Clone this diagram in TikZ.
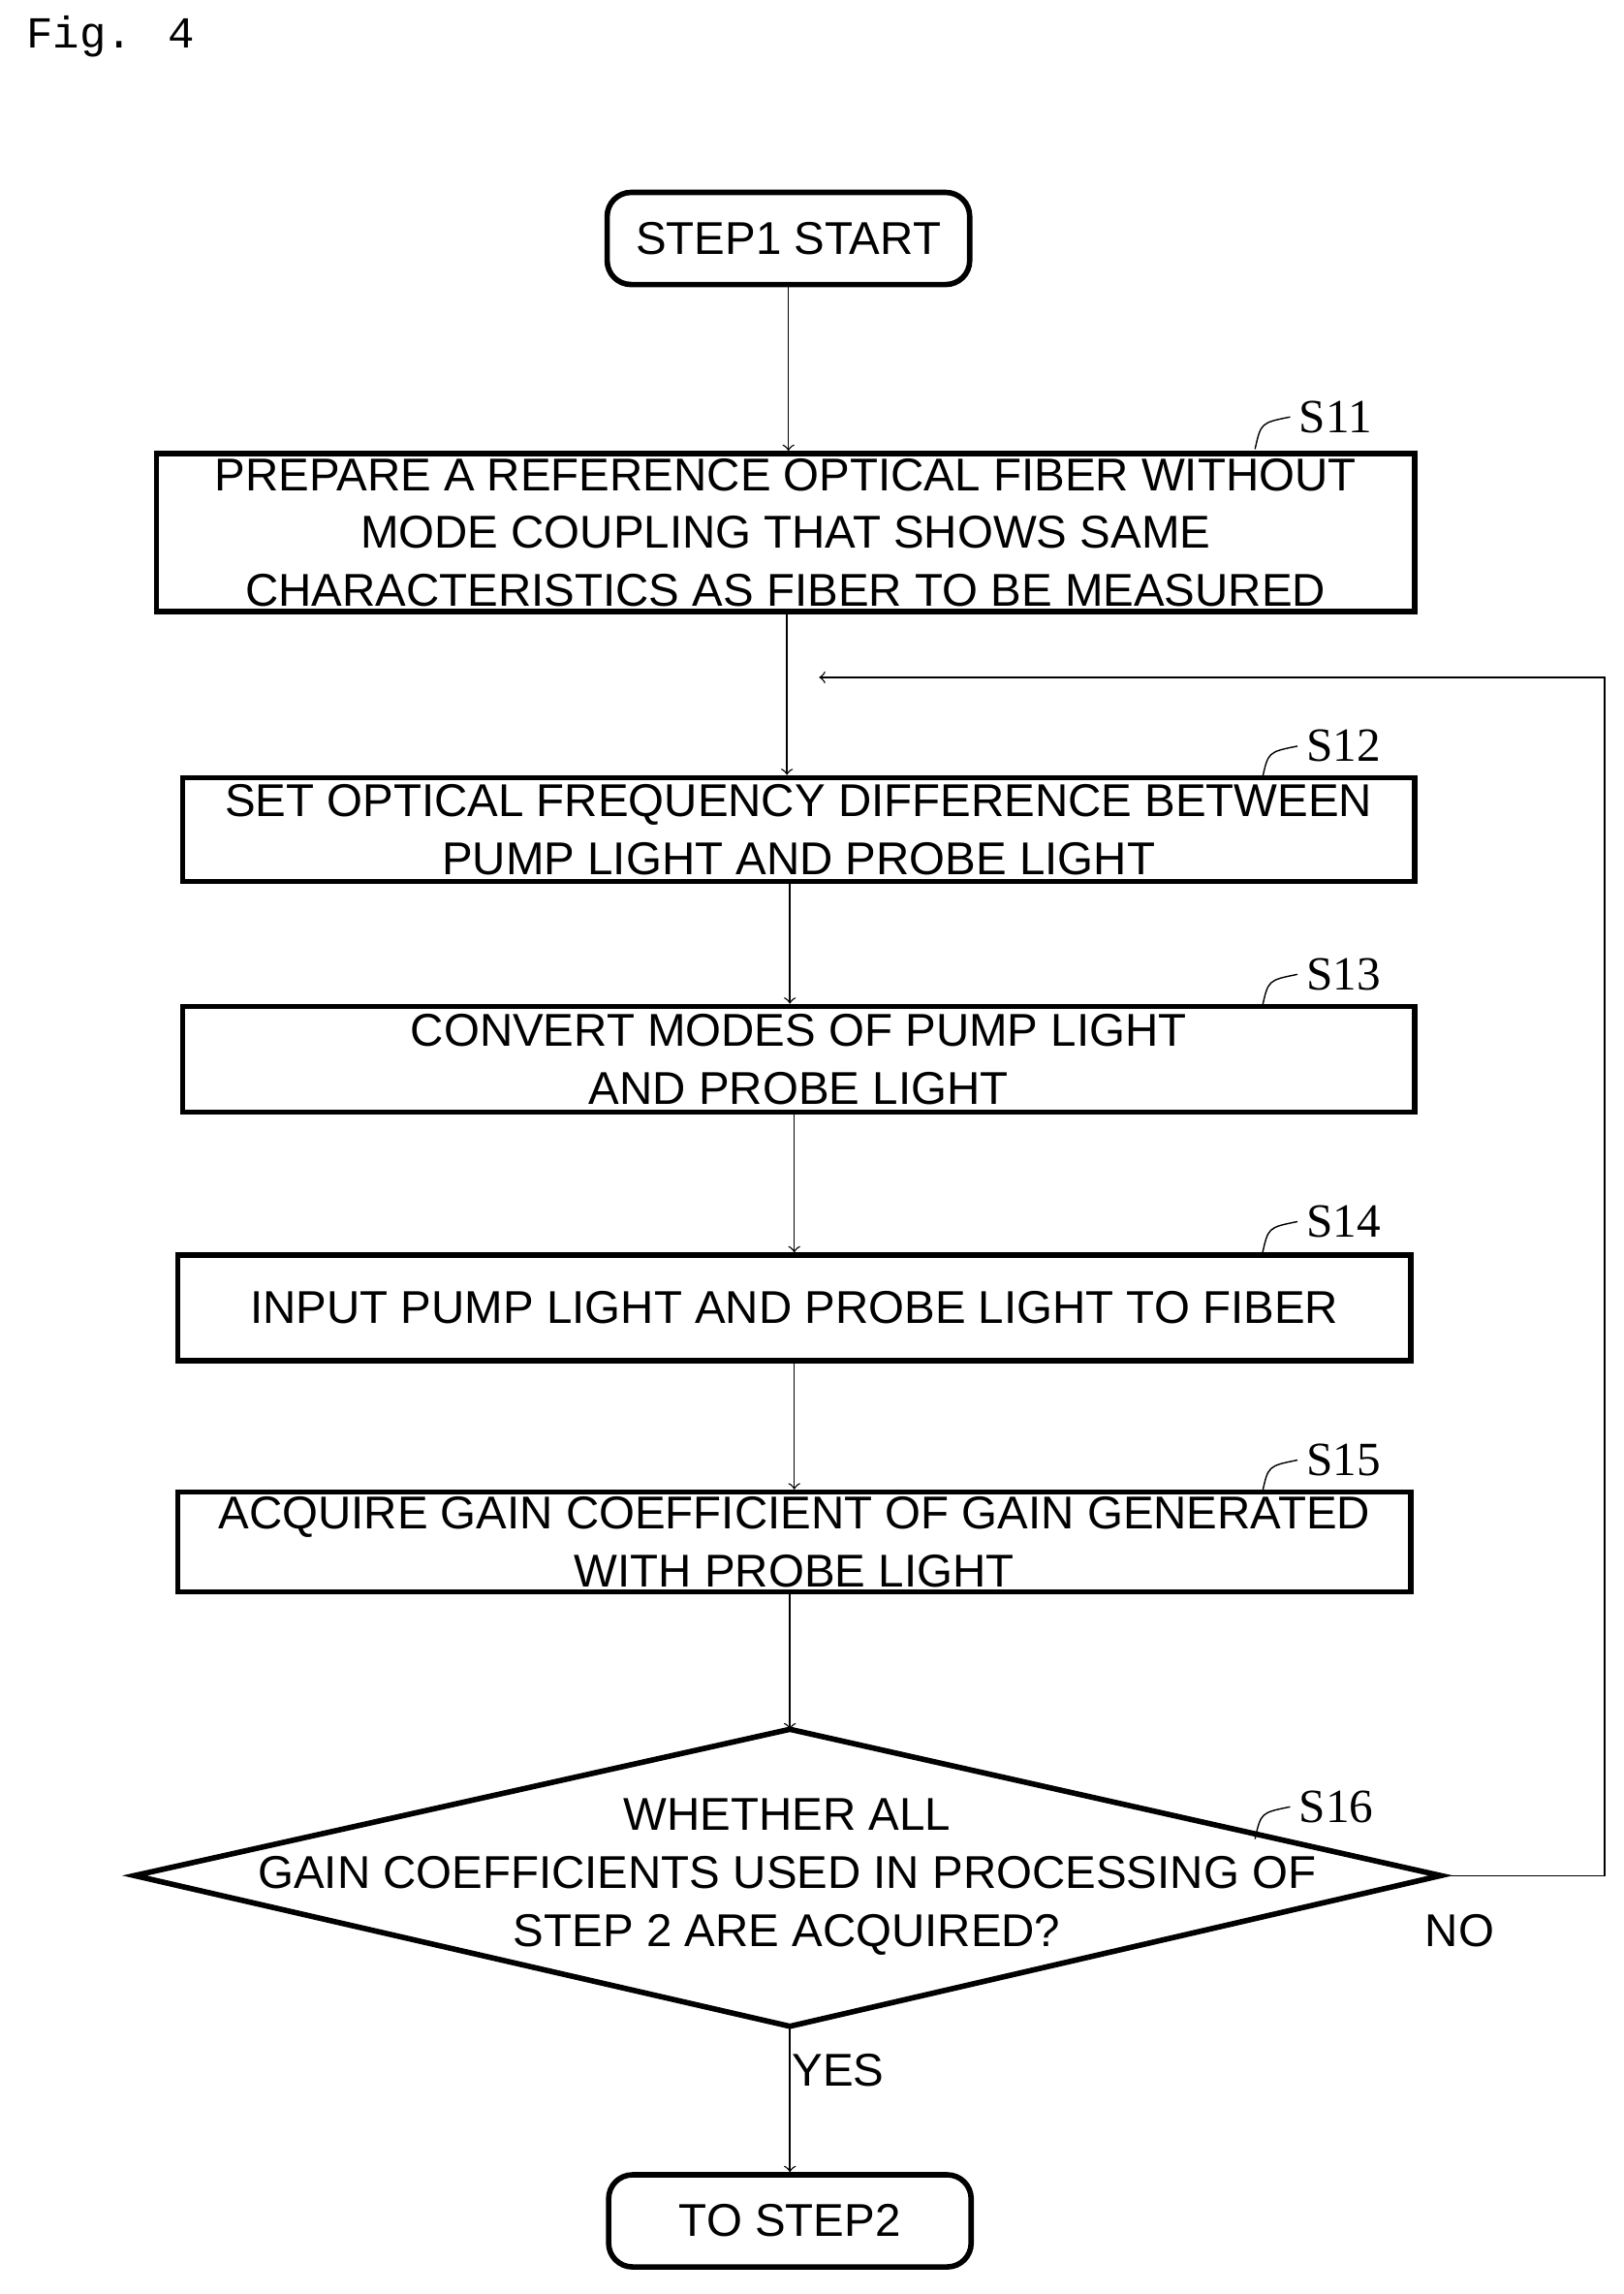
\documentclass[tikz,border=0pt]{standalone}
\usepackage{fontspec}
\setmainfont{Liberation Sans}
\newfontfamily\labfont{Liberation Serif}
\newfontfamily\figfont{Liberation Mono}
\begin{document}
\begin{tikzpicture}[x=0.01509cm,y=-0.01509cm,
    box/.style={draw,line width=1.6pt,align=center,inner sep=0pt,
        font=\fontsize{13.5}{17}\selectfont},
    term/.style={box,rounded corners=7pt,minimum width=3.74cm,minimum height=0.95cm},
    arr/.style={->,thin},
    slab/.style={font=\labfont\fontsize{14}{16}\selectfont,anchor=west}]
    \useasboundingbox (0,0) rectangle (1110,1568);
    \node[anchor=west,font=\figfont\fontsize{13}{15}\selectfont] at (10,25) {Fig. 4};
    \node[term] (start) at (539,163) {STEP1 START};
    \node[box,minimum width=12.98cm,minimum height=1.63cm] (s11) at (537,364)
        {PREPARE A REFERENCE OPTICAL FIBER WITHOUT\\MODE COUPLING THAT SHOWS SAME\\CHARACTERISTICS AS FIBER TO BE MEASURED};
    \node[box,minimum width=12.71cm,minimum height=1.07cm] (s12) at (546,567)
        {SET OPTICAL FREQUENCY DIFFERENCE BETWEEN\\PUMP LIGHT AND PROBE LIGHT};
    \node[box,minimum width=12.71cm,minimum height=1.09cm] (s13) at (546,724)
        {CONVERT MODES OF PUMP LIGHT\\AND PROBE LIGHT};
    \node[box,minimum width=12.72cm,minimum height=1.09cm] (s14) at (543,894)
        {INPUT PUMP LIGHT AND PROBE LIGHT TO FIBER};
    \node[box,minimum width=12.72cm,minimum height=1.03cm] (s15) at (543,1054)
        {ACQUIRE GAIN COEFFICIENT OF GAIN GENERATED\\WITH PROBE LIGHT};
    % decision
    \coordinate (dt) at (540,1182);
    \coordinate (db) at (540,1385);
    \coordinate (dl) at (92,1282);
    \coordinate (dr) at (985,1282);
    \draw[line width=1.6pt] (dt) -- (dr) -- (db) -- (dl) -- cycle;
    \node[align=center,font=\fontsize{13.5}{17}\selectfont] (s16) at (538,1283)
        {WHETHER ALL\\GAIN COEFFICIENTS USED IN PROCESSING OF\\STEP 2 ARE ACQUIRED?};
    \node[term] (end) at (540,1518) {TO STEP2};
    % step labels
    \foreach \nm/\x/\y in {S11/870/285,S12/875/510,S13/875/666,S14/875/835,S15/875/998,S16/870/1235}
    {
    \draw[thin] (\x-12,\y+22) .. controls (\x-8,\y+4) .. (\x+12,\y);
    \node[slab] at (\x+10,\y) {\nm};
    }
    % connectors
    \draw[arr] (start) -- (start|-s11.north);
    \coordinate (ret) at (560,463);
    \draw[arr] (s11.south-|s12) ++(-8,0) -- ([xshift=-8*0.01509cm]s12.north);
    \draw[arr] (s12) ++(-6,36) -- ([xshift=-6*0.01509cm]s13.north);
    \draw[arr] (s13.south-|s14) -- (s14.north);
    \draw[arr] (s14.south-|s15) -- (s15.north);
    \draw[arr] (s15.south-|dt) -- (dt);
    \draw[arr] (db) -- (end.north-|db);
    \draw[arr] (dr) -- (1097,1282) -- (1097,463) -- (ret);
    \node[font=\fontsize{13.5}{17}\selectfont] at (998,1320) {NO};
    \node[font=\fontsize{13.5}{17}\selectfont] at (573,1415) {YES};
\end{tikzpicture}
\end{document}
